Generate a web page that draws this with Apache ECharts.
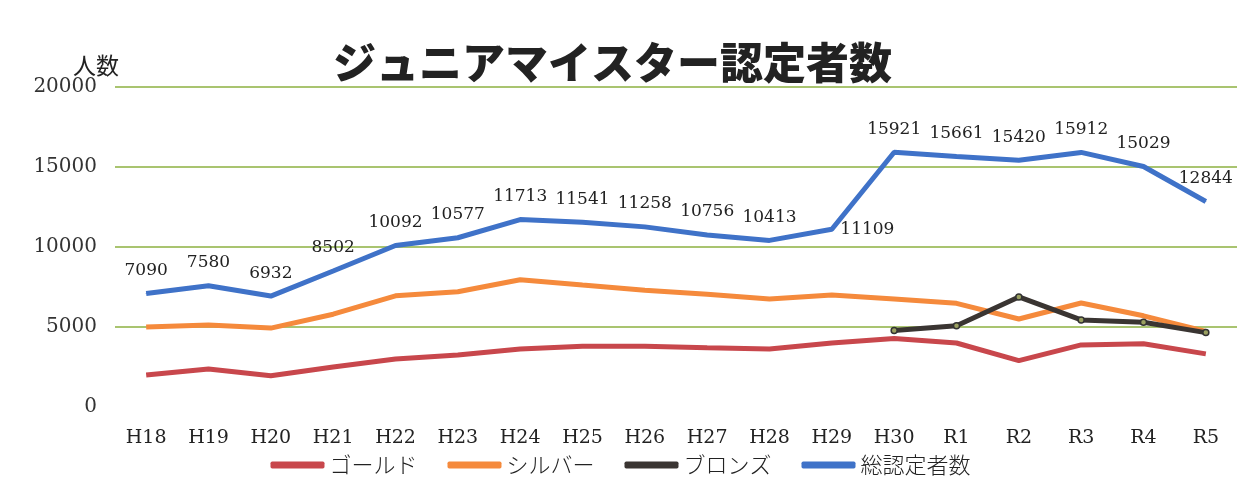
<!DOCTYPE html>
<html>
<head>
<meta charset="utf-8">
<script src="https://cdn.jsdelivr.net/npm/echarts@6/dist/echarts.min.js"></script>
<style>
  html, body { margin: 0; padding: 0; background: #fff; }
  #chart { width: 1241px; height: 492px; }
</style>
</head>
<body>
<div id="chart"></div>
<script>
// years on the x axis
var years = ['H18','H19','H20','H21','H22','H23','H24','H25','H26','H27','H28','H29','H30','R1','R2','R3','R4','R5'];
// values (gold / silver / bronze are estimated)
var gold   = [2000, 2380, 1950, 2500, 3000, 3250, 3620, 3800, 3800, 3700, 3620, 4000, 4280, 4000, 2900, 3880, 3950, 3320];
var silver = [5000, 5120, 4930, 5800, 6950, 7200, 7950, 7620, 7300, 7050, 6750, 7000, 6750, 6480, 5500, 6500, 5700, 4720];
var bronze = [null, null, null, null, null, null, null, null, null, null, null, null, 4780, 5080, 6880, 5440, 5300, 4650];
var total  = [7090, 7580, 6932, 8502, 10092, 10577, 11713, 11541, 11258, 10756, 10413, 11109, 15921, 15661, 15420, 15912, 15029, 12844];

var serif = '"DejaVu Serif", "Liberation Serif", serif';
var jp = '"Noto Sans CJK JP", sans-serif';

var chart = echarts.init(document.getElementById('chart'));

var option = {
  backgroundColor: '#fff',
  animation: false,
  title: {
    text: 'ジュニアマイスター認定者数',
    left: 328,
    top: 36,
    textStyle: { fontFamily: jp, fontSize: 43, fontWeight: 900, color: '#222' }
  },
  legend: {
    bottom: 11,
    left: 'center',
    icon: 'roundRect',
    itemWidth: 54,
    itemHeight: 7,
    itemGap: 30,
    textStyle: { fontFamily: jp, fontSize: 22, color: '#222', fontWeight: 300 },
    data: [
      'ゴールド',
      'シルバー',
      { name: 'ブロンズ', itemStyle: { color: '#3a3532', borderWidth: 0 } },
      '総認定者数'
    ]
  },
  grid: { left: 115, right: 4, top: 87, bottom: 85, containLabel: false },
  xAxis: {
    type: 'category',
    data: years,
    boundaryGap: true,
    axisLine: { show: false },
    axisTick: { show: false },
    axisLabel: { fontFamily: serif, fontSize: 19, color: '#222', margin: 22 }
  },
  yAxis: {
    type: 'value',
    min: 0,
    max: 20000,
    interval: 5000,
    name: '人数',
    nameGap: 10,
    nameTextStyle: { fontFamily: jp, fontSize: 23, color: '#222', align: 'center', padding: [0, 38, 0, 0] },
    axisLine: { show: false },
    axisTick: { show: false },
    axisLabel: { fontFamily: serif, fontSize: 20, color: '#333', margin: 18, formatter: function (v) { return String(v); } },
    splitLine: { lineStyle: { color: ['transparent', '#8cb040', '#8cb040', '#8cb040', '#8cb040'], width: 1.5 } }
  },
  series: [
    {
      name: 'ゴールド', type: 'line', data: gold, showSymbol: false,
      itemStyle: { color: '#c8474c' }, lineStyle: { width: 5, color: '#c8474c' }
    },
    {
      name: 'シルバー', type: 'line', data: silver, showSymbol: false,
      itemStyle: { color: '#f58a3c' }, lineStyle: { width: 5, color: '#f58a3c' }
    },
    {
      name: 'ブロンズ', type: 'line', data: bronze, symbol: 'circle', symbolSize: 6,
      itemStyle: { color: '#9aa060', borderColor: '#333', borderWidth: 1.5 },
      lineStyle: { width: 5, color: '#3a3532' }
    },
    {
      name: '総認定者数', type: 'line', showSymbol: true, symbol: 'circle', symbolSize: 1,
      itemStyle: { color: '#3f72c8' }, lineStyle: { width: 5, color: '#3f72c8' },
      label: {
        show: true, position: 'top', distance: 14,
        fontFamily: serif, fontSize: 17, color: '#222'
      },
      labelLayout: { hideOverlap: false }
    }
  ]
};

// 11109 sits to the right of its point
option.series[3].data = total.map(function (v, i) {
  if (years[i] === 'H29') {
    return { value: v, label: { position: 'right', distance: 8, offset: [0, 6] } };
  }
  return v;
});

chart.setOption(option);
</script>
</body>
</html>
